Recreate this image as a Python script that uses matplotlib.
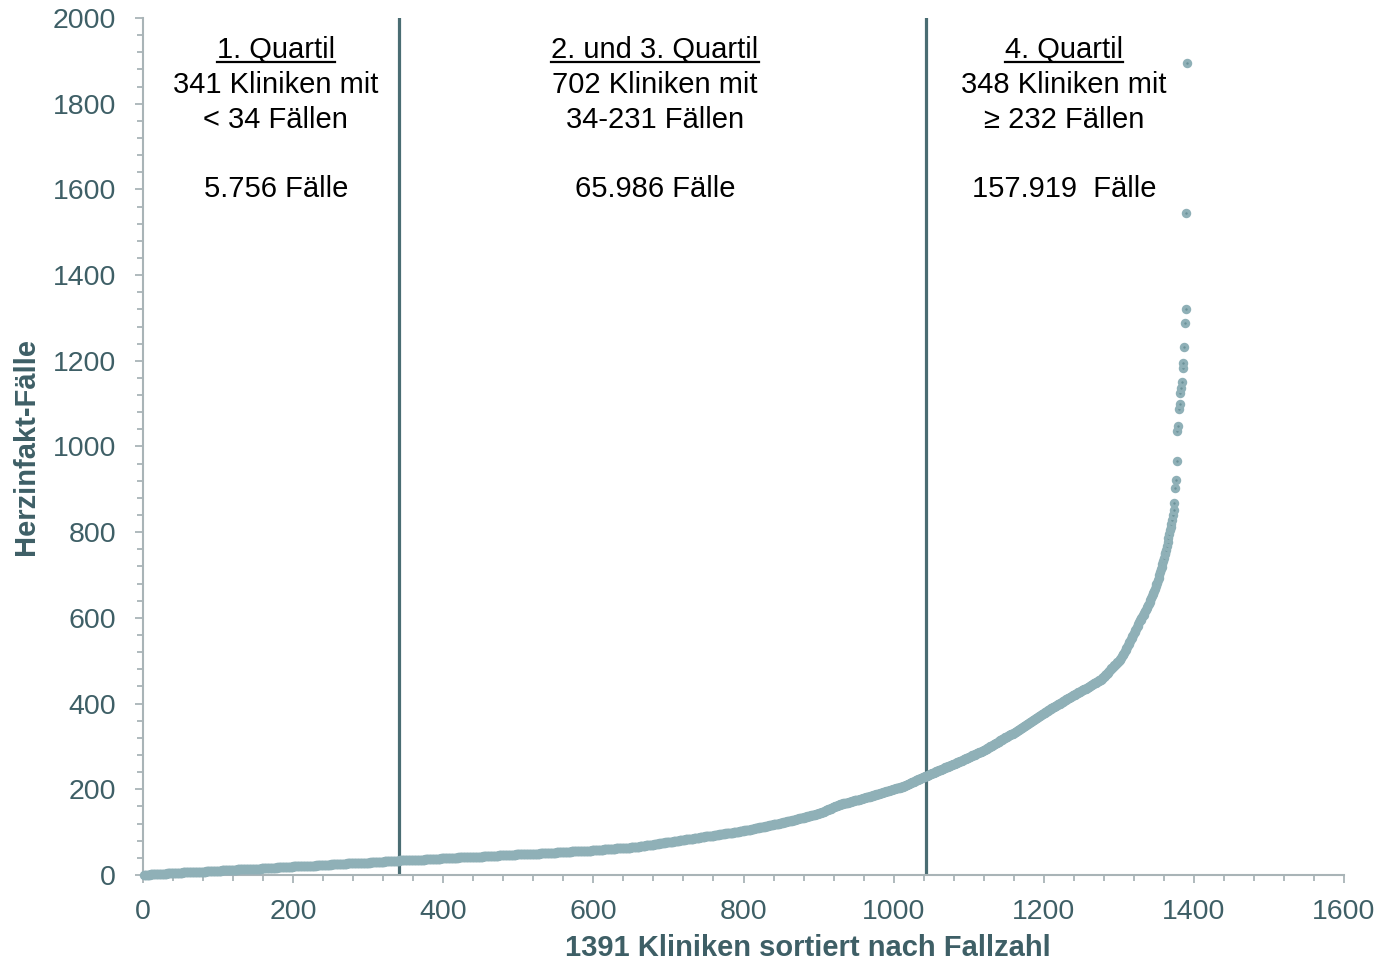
import matplotlib.pyplot as plt
import numpy as np
from matplotlib.ticker import MultipleLocator
from matplotlib.lines import Line2D

plt.rcParams['font.family'] = ['Liberation Sans', 'DejaVu Sans']

# Anzahl Kliniken je Fallzahl 1..231 (1. bis 3. Quartil)
kliniken_je_fallzahl = [
    # 1-33
    9, 11, 11, 10, 11, 10, 11, 10, 11, 10, 11, 10, 11, 10, 11, 10, 11,
    10, 11, 10, 11, 10, 10, 10, 10, 11, 10, 10, 11, 9, 10, 10, 10,
    # 34-50
    11, 12, 11, 11, 10, 11, 12, 11, 11, 11, 10, 11, 12, 11, 11, 10, 11,
    # 51-66
    11, 11, 10, 10, 9, 9, 9, 8, 8, 8, 8, 7, 7, 6, 6, 6,
    # 67-101
    4, 4, 3, 4, 4, 4, 3, 4, 4, 4, 4, 3, 4, 4, 4, 4, 3, 4, 4, 4, 4, 3,
    4, 4, 4, 4, 4, 3, 4, 4, 4, 4, 3, 4, 4,
    # 102-126
    3, 3, 3, 3, 3, 2, 3, 3, 3, 2, 3, 3, 3, 2, 3, 3, 2, 3, 3, 2, 3, 2, 3, 2, 2,
    # 127-144
    3, 2, 3, 2, 2, 2, 3, 2, 2, 2, 3, 2, 2, 2, 2, 2, 2, 2,
    # 145-164
    2, 1, 1, 2, 1, 1, 2, 1, 1, 2, 1, 1, 1, 2, 1, 1, 2, 1, 1, 2,
    # 165-183
    2, 2, 3, 2, 2, 2, 2, 2, 2, 3, 2, 2, 2, 2, 2, 2, 2, 2, 2,
    # 184-206
    2, 2, 2, 2, 1, 2, 2, 2, 2, 2, 2, 2, 2, 1, 2, 2, 2, 2, 2, 2, 2, 2, 2,
    # 207-231
    1, 2, 1, 1, 1, 2, 1, 1, 1, 1, 2, 1, 1, 1, 2, 1, 1, 1, 1, 2, 1, 1, 2, 1, 1,
]

# 4. Quartil: Fallzahl jeder einzelnen Klinik, aufsteigend
faelle_q4 = [
    232, 232, 233, 234, 235, 235, 236, 237, 238, 238, 239, 240, 241, 242,
    242, 243, 244, 245, 245, 246, 247, 248, 248, 249, 250, 251, 251, 252,
    253, 254, 254, 255, 256, 256, 257, 258,
    259, 260, 260, 261, 262, 263, 263, 264, 265, 266, 267, 267, 268, 269,
    270, 271, 271, 272, 273, 274, 275, 276, 276, 277, 278, 279, 280, 281,
    281, 282, 283, 284, 285, 285, 286, 287, 288, 288, 289, 290,
    291, 292, 292, 294, 295, 296, 297, 298, 298, 300, 301, 302, 303, 304,
    305, 306, 308, 309, 309, 310, 311, 313, 314, 315, 315, 317, 318, 319,
    320, 321, 322, 322, 324, 325, 326, 327, 328, 328, 329, 330,
    331, 332, 333, 334, 336, 337, 338, 339, 340, 341, 343, 344, 345, 346,
    347, 348, 350, 351, 352, 353, 354, 355, 357, 358, 359, 360, 361, 362,
    364, 365, 366, 367, 368, 369, 371, 372, 373, 374, 375, 376, 378, 379,
    380, 381, 382, 383, 385, 386, 387, 388, 389, 390,
    391, 392, 393, 394, 395, 396, 397, 398, 399, 400, 401, 402, 403, 404,
    405, 407, 408, 409, 410, 411, 412, 413, 414, 415, 416, 417, 418, 419,
    420, 421, 422, 423, 424, 425, 426, 427, 428, 429, 430, 431, 432, 433,
    433, 434, 434,
    436, 437, 438, 439, 440, 441, 443, 444, 445, 446, 447, 448, 449, 450,
    451, 452, 453, 454, 455, 456, 458, 459, 461, 462, 464, 466, 468,
    470, 472, 474, 476, 478, 480, 482, 484, 485, 487, 489, 490, 492, 494,
    496, 498, 500, 502,
    504, 507, 510, 513, 516, 519, 523, 526, 530, 533, 536, 540, 543,
    546, 550, 553, 557, 560, 564, 568, 571, 575, 579, 582, 586, 590,
    594, 596, 600, 603, 606, 607, 612, 615, 619, 622, 626, 629, 633, 638,
    642, 646, 651, 656, 658, 663, 668, 674, 679, 681, 688, 694, 700, 707, 714,
    719, 726, 733, 740, 748, 751, 759, 767, 778,
    786, 796, 806, 812, 820, 829,
    840, 852, 868, 903, 922,
    966, 1036, 1048, 1088, 1100, 1125, 1136, 1150, 1183, 1195, 1232, 1288,
    1321, 1545, 1895,
]

grenzen = [341.5, 1043.5]

block_x = [177, 682, 1227]
block_titel = ["1. Quartil", "2. und 3. Quartil", "4. Quartil"]
block_zeilen = [
    ["341 Kliniken mit", "< 34 Fällen", "", "5.756 Fälle"],
    ["702 Kliniken mit", "34-231 Fällen", "", "65.986 Fälle"],
    ["348 Kliniken mit", "≥ 232 Fällen", "", "157.919  Fälle"],
]

stufen = np.arange(1, len(kliniken_je_fallzahl) + 1)
werte = np.concatenate([np.repeat(stufen, kliniken_je_fallzahl), faelle_q4])
rang = np.arange(1, len(werte) + 1)

achse = '#a9b4b7'
schrift = '#3e5f66'

fig = plt.figure(figsize=(13.83, 9.63), dpi=100)
ax = fig.add_axes([0.1034, 0.0914, 0.8684, 0.8899])

for g in grenzen:
    ax.axvline(g, color='#4a6d73', lw=2.3, zorder=2)

ax.plot(rang, werte, 'o', ms=4.3, mfc='#6b9199', mec='#8fb0b7', mew=2.5,
        clip_on=False, zorder=3)

ax.set_xlim(0, 1600)
ax.set_ylim(0, 2000)
ax.xaxis.set_major_locator(MultipleLocator(200))
ax.xaxis.set_minor_locator(MultipleLocator(40))
ax.yaxis.set_major_locator(MultipleLocator(200))
ax.yaxis.set_minor_locator(MultipleLocator(40))

for s in ['top', 'right']:
    ax.spines[s].set_visible(False)
for s in ['left', 'bottom']:
    ax.spines[s].set_color(achse)
    ax.spines[s].set_linewidth(1.5)

ax.tick_params(axis='both', which='both', color=achse, width=1.3,
               direction='out', labelsize=20.5, labelcolor=schrift)
ax.tick_params(axis='both', which='major', length=5.5)
ax.tick_params(axis='both', which='minor', length=4.5)
ax.tick_params(axis='x', which='major', pad=12)
ax.tick_params(axis='y', which='major', pad=14)

ax.set_xlabel("1391 Kliniken sortiert nach Fallzahl", fontsize=21,
              fontweight='bold', color=schrift)
ax.xaxis.set_label_coords(0.554, -0.085)
ax.xaxis.label.set_va('center')
ax.set_ylabel("Herzinfakt-Fälle", fontsize=21, fontweight='bold', color=schrift)
ax.yaxis.set_label_coords(-0.0974, 0.5)
ax.yaxis.label.set_va('center')

zeilen_y = [1906, 1825, 1743, 1662, 1582]
titel_texte = []
for bx, titel, zeilen in zip(block_x, block_titel, block_zeilen):
    t = ax.text(bx, zeilen_y[0], titel, ha='center', va='baseline',
                fontsize=21, color='black')
    titel_texte.append(t)
    for zy, z in zip(zeilen_y[1:], zeilen):
        if z:
            ax.text(bx, zy, z, ha='center', va='baseline', fontsize=21,
                    color='black')

# Unterstreichung der Überschriften
fig.canvas.draw()
r = fig.canvas.get_renderer()
inv = ax.transData.inverted()
for t in titel_texte:
    bb = t.get_window_extent(r)
    x0 = inv.transform((bb.x0, 0))[0]
    x1 = inv.transform((bb.x1, 0))[0]
    ax.add_line(Line2D([x0, x1], [1897, 1897], color='black', lw=1.6,
                       clip_on=False))

fig.savefig('out.png', dpi=100)
